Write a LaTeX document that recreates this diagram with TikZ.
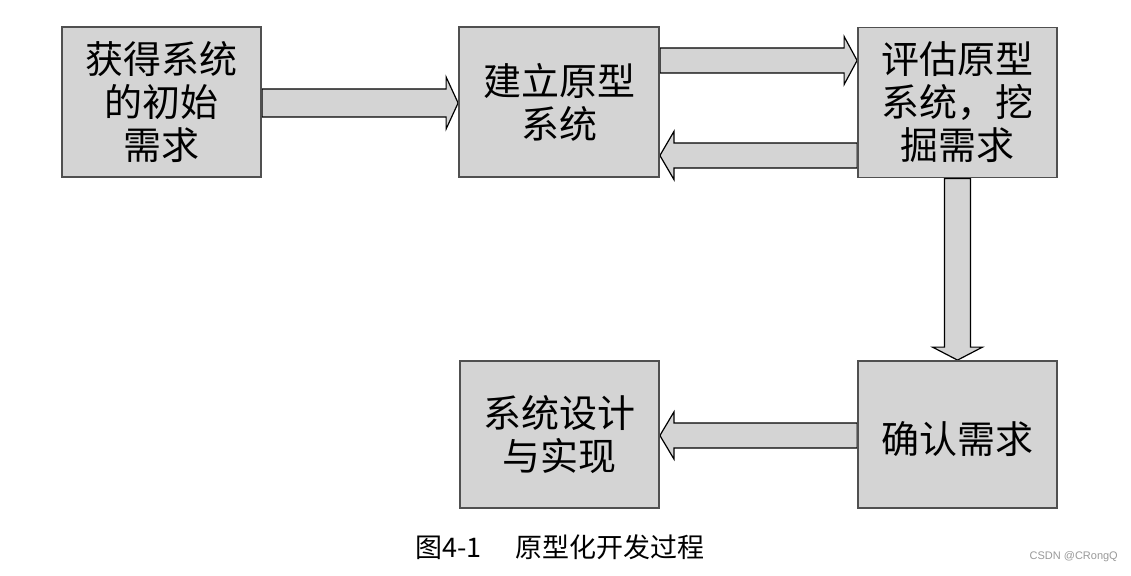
\documentclass[tikz,border=0pt]{standalone}
\usepackage{fontspec}
\setmainfont{Noto Sans CJK SC}
\newfontfamily\wmfont{Liberation Sans}
\usetikzlibrary{calc,backgrounds}
\definecolor{boxgray}{HTML}{D4D4D4}
\definecolor{edgegray}{HTML}{505050}
\definecolor{wmgray}{HTML}{9A9A9A}
\newcommand\fatarrow[5]{%
  \path (#1) coordinate (fs) (#2) coordinate (ft) ($(ft)!#5!(fs)$) coordinate (fh);
  \draw[fat] ($(fs)!#3!90:(ft)$) -- ($(fh)!#3!-90:(fs)$) -- ($(fh)!#4!-90:(fs)$) -- (ft)
    -- ($(fh)!#4!90:(fs)$) -- ($(fh)!#3!90:(fs)$) -- ($(fs)!#3!-90:(ft)$) -- cycle;}
\begin{document}
\begin{tikzpicture}[x=1pt,y=-1pt,
  box/.style={draw=edgegray, line width=1.8pt, fill=boxgray, minimum width=199pt,
    minimum height=150pt, inner sep=0pt, align=center, text=black,
    font=\fontsize{38}{43}\selectfont,
    execute at begin node={\rule{0pt}{42pt}}},
  fat/.style={draw=black, line width=1.2pt, fill=boxgray, line join=miter}]
\useasboundingbox (0,0) rectangle (1131,575);
\node[box] (req) at (161.5,102) {获得系统\\的初始\\需求};
\node[box, minimum width=200pt] (build) at (559,102) {建立原型\\系统};
\node[box] (eval) at (957.5,102.5) {评估原型\\系统，挖\\掘需求};
\node[box, minimum height=147pt] (impl) at (559.5,434.5) {系统设计\\与实现};
\node[box, minimum height=147pt] (conf) at (957.5,434.5) {确认需求};
\begin{scope}[on background layer]
  \fill[white] (0,0) rectangle (1131,575);
  \fatarrow{$(req.east)+(0,1)$}{$(build.west)+(0,1)$}{14pt}{26pt}{12pt}
  \fatarrow{$(build.east)+(0,-41.5)$}{$(eval.west)+(0,-42)$}{12.5pt}{24pt}{13pt}
  \fatarrow{$(eval.west)+(0,53)$}{$(build.east)+(0,53.5)$}{12.5pt}{24pt}{14pt}
  \fatarrow{eval.south}{conf.north}{13pt}{25pt}{13pt}
  \fatarrow{$(conf.west)+(0,1)$}{$(impl.east)+(0,1)$}{12.5pt}{23.5pt}{14pt}
\end{scope}
\node[font=\fontsize{27}{31}\selectfont, inner sep=0pt] (cap) at (560,547) {图4-1\hspace{34pt}原型化开发过程};
\node[font=\wmfont\fontsize{11}{13}\selectfont, text=wmgray, anchor=east, inner sep=0pt] (wm) at (1118,557) {CSDN @CRongQ};
\end{tikzpicture}
\end{document}
